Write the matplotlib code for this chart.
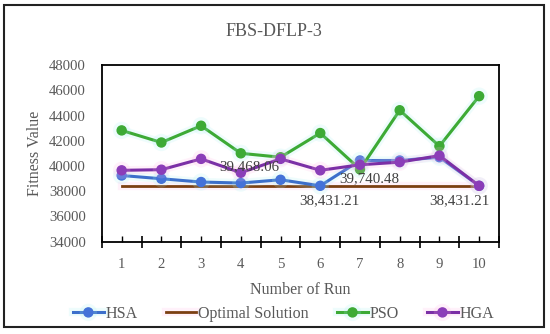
import matplotlib
matplotlib.use("Agg")
import matplotlib.pyplot as plt
import matplotlib.patheffects as pe
from matplotlib.patches import Rectangle

runs = [1, 2, 3, 4, 5, 6, 7, 8, 9, 10]
hsa = [39250, 38990, 38730, 38650, 38910, 38431.21, 40440, 40440, 40700, 38431.21]
optimal = [38431.21] * 10
pso = [42830, 41870, 43200, 41010, 40700, 42620, 39740.48, 44430, 41580, 45550]
hga = [39660, 39710, 40570, 39468.06, 40570, 39660, 40100, 40310, 40830, 38431.21]
yticks = [34000, 36000, 38000, 40000, 42000, 44000, 46000, 48000]
title = "FBS-DFLP-3"

plt.rcParams['font.family'] = ['Liberation Serif', 'DejaVu Serif']
gray = '#595959'

fig = plt.figure(figsize=(5.5, 3.34), dpi=100)
W, H = 550, 334
ax = fig.add_axes([101.8 / W, 1 - 241.6 / H, (499 - 101.8) / W, (241.6 - 65.3) / H])

def glow(c):
    return [pe.Stroke(linewidth=6, foreground=c, alpha=0.18), pe.Normal()]

ax.plot(runs, optimal, color='#7B3F12', lw=2, label='Optimal Solution',
        path_effects=glow('#FFB3E6'), zorder=2)
ax.plot(runs, hsa, color='#3C6FCB', lw=2.2, marker='o', ms=6.5, mfc='#4472D8', mec='#4472D8',
        label='HSA', path_effects=glow('#A6F0F0'), zorder=3)
ax.plot(runs, pso, color='#3DAA35', lw=2.2, marker='o', ms=6.5, label='PSO',
        path_effects=glow('#A6F0F0'), zorder=3)
ax.plot(runs, hga, color='#7B2FA6', lw=2.2, marker='o', ms=6.5, mfc='#8B3DB8', mec='#8B3DB8',
        label='HGA', path_effects=glow('#FFB3E6'), zorder=4)

lab_kw = dict(textcoords='offset points', ha='center', va='center', fontsize=10.8, color='#404040', zorder=6)
ax.annotate(f"{hga[3]:,.2f}", (runs[3], hga[3]), xytext=(6.3, 4.3), **lab_kw)
ax.annotate(f"{pso[6]:,.2f}", (runs[6], pso[6]), xytext=(6.8, -6.5), **lab_kw)
ax.annotate(f"{hsa[5]:,.2f}", (runs[5], hsa[5]), xytext=(6.6, -10.5), **lab_kw)
ax.annotate(f"{hsa[9]:,.2f}", (runs[9], hsa[9]), xytext=(-14, -10.5), **lab_kw)

ax.set_xlim(0.5, 10.5)
ax.set_ylim(34000, 48000)
ax.set_yticks(yticks)
ax.set_yticklabels([str(v) for v in yticks])
ax.tick_params(axis='y', length=0, pad=11.5, labelsize=10.6, labelcolor=gray)

ax.set_xticks([r + 0.5 for r in [0] + runs])
ax.set_xticklabels([])
ax.tick_params(axis='x', which='major', direction='inout', length=8, width=1.2, color='black')
ax.set_xticks(runs, minor=True)
ax.set_xticklabels([str(r) for r in runs], minor=True)
ax.tick_params(axis='x', which='minor', direction='in', length=4, width=1.0, color='black',
               pad=12, labelsize=10.6, labelcolor=gray)

for s in ax.spines.values():
    s.set_color('black')
    s.set_linewidth(1.3)

fig.text(273.7 / W, 1 - 31.6 / H, title, ha='center', va='center', fontsize=13, color=gray)
fig.text(35 / W, 1 - 153.5 / H, 'Fitness Value', rotation=90, ha='center', va='center',
         fontsize=11.5, color=gray)
fig.text(300.4 / W, 1 - 290.4 / H, 'Number of Run', ha='center', va='center', fontsize=11.5, color=gray)

handles, labels = ax.get_legend_handles_labels()
order = [labels.index(n) for n in ['HSA', 'Optimal Solution', 'PSO', 'HGA']]
leg = fig.legend([handles[i] for i in order], [labels[i] for i in order], ncol=4,
                 loc='center', bbox_to_anchor=(283.5 / W, 1 - 314 / H), frameon=False,
                 fontsize=11.5, handlelength=1.9, handletextpad=0.1, columnspacing=1.8,
                 labelcolor=gray)

fig.patches.append(Rectangle((4 / W, 1 - 326.5 / H), 540 / W, 322 / H, transform=fig.transFigure,
                             fill=False, edgecolor='#222222', linewidth=1.5))

fig.savefig('out.png', dpi=100)
